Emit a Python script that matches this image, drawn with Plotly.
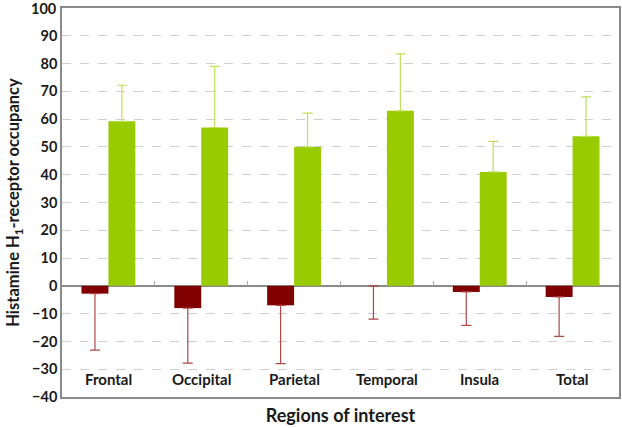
import plotly.graph_objects as go

categories = ["Frontal", "Occipital", "Parietal", "Temporal", "Insula", "Total"]
red_values = [-2.8, -8.0, -7.0, 0.0, -2.2, -4.0]
red_errors = [20.3, 19.8, 21.0, 12.0, 12.0, 14.2]
green_values = [59.2, 57.0, 50.0, 63.0, 41.0, 53.8]
green_errors = [13.0, 22.0, 12.2, 20.5, 11.0, 14.2]
y_ticks = list(range(-40, 101, 10))
y_ticktext = [f"<b>{v}</b>".replace("-", "\u2212") for v in y_ticks]

FONT = "Lato"
TICKFONT = dict(size=14.5, family=FONT, color="#1a1a1a")

fig = go.Figure()
fig.add_trace(go.Bar(
    x=categories, y=red_values,
    marker=dict(color="#800000", line=dict(width=0)),
    error_y=dict(type="data", symmetric=False, array=[0]*6, arrayminus=red_errors,
                 color="#b04848", thickness=1.2, width=5),
    showlegend=False,
))
fig.add_trace(go.Bar(
    x=categories, y=green_values,
    marker=dict(color="#99cc00", line=dict(width=0)),
    error_y=dict(type="data", symmetric=False, array=green_errors, arrayminus=[0]*6,
                 color="#bfe05a", thickness=1.2, width=5),
    showlegend=False,
))

fig.update_layout(
    width=622, height=428,
    margin=dict(l=62, r=3, t=8, b=31),
    paper_bgcolor="white", plot_bgcolor="white",
    barmode="group", bargap=0.42, bargroupgap=0,
    font=dict(family=FONT, color="#1a1a1a"),
    xaxis=dict(
        type="category", showticklabels=False, ticks="", automargin=False,
        showgrid=False, showline=True, linecolor="#8a8a8a", linewidth=1.5,
        mirror=True, range=[-0.5, 5.5],
        title=dict(text="<b>Regions of interest</b>", font=dict(size=18, family=FONT), standoff=12),
    ),
    xaxis2=dict(
        overlaying="x", anchor="free", position=40/140, type="linear", automargin=False,
        range=[-0.5, 5.5], tickvals=[0.5, 1.5, 2.5, 3.5, 4.5],
        ticks="inside", ticklen=5, tickcolor="#aaaaaa", tickwidth=1,
        showticklabels=False, showgrid=False, showline=False, zeroline=False,
    ),
    yaxis=dict(
        range=[-40, 100], tickvals=y_ticks, ticktext=y_ticktext, automargin=False,
        tickfont=TICKFONT,
        showgrid=True, gridcolor="#cfcfcf", griddash="dash", gridwidth=1,
        zeroline=True, zerolinecolor="#8a8a8a", zerolinewidth=1.5,
        showline=True, linecolor="#8a8a8a", linewidth=1.5, mirror=True,
        ticks="",
        title=dict(text="<b>Histamine H<sub>1</sub>-receptor occupancy</b>",
                   font=dict(size=16.5, family=FONT), standoff=8),
    ),
)

# invisible trace to activate xaxis2
fig.add_trace(go.Scatter(x=[0], y=[0], xaxis="x2", mode="markers",
                         marker=dict(opacity=0), showlegend=False, hoverinfo="skip"))

for c in categories:
    fig.add_annotation(x=c, xref="x", y=-33.5, yref="y", text=f"<b>{c}</b>",
                       showarrow=False, font=dict(size=15, family=FONT, color="#1a1a1a"),
                       yanchor="middle")

# top tick label (plotly drops it at the figure edge)
fig.add_annotation(x=0, xref="paper", y=y_ticks[-1], yref="y", text=y_ticktext[-1],
                   showarrow=False, font=TICKFONT, xanchor="right", yanchor="middle", xshift=-3)

fig.write_html("out.html", config={"displayModeBar": False},
               post_script="document.body.style.margin='0';")
